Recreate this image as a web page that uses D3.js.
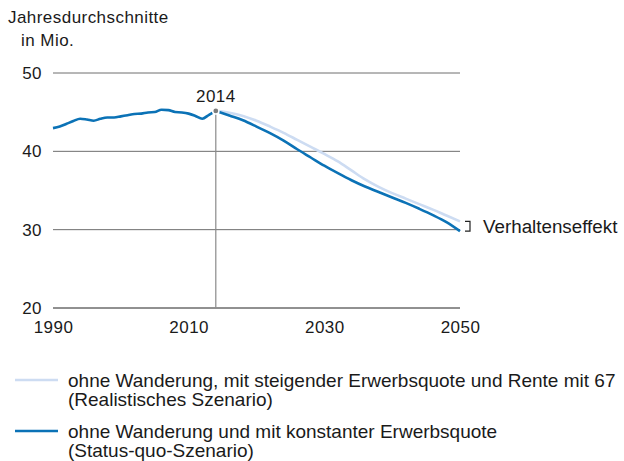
<!DOCTYPE html>
<html>
<head>
<meta charset="utf-8">
<script src="https://cdn.jsdelivr.net/npm/d3@7"></script>
<style>
  html, body { margin: 0; padding: 0; background: #fff; }
  svg text { font-family: "Liberation Sans", Arial, Helvetica, sans-serif; fill: #1a1a1a; }
</style>
</head>
<body>
<svg id="chart" width="624" height="461"></svg>
<script>
// Erwerbspersonen, Jahresdurchschnitte in Mio.
const historyYears = [1990,1991,1992,1993,1994,1995,1996,1997,1998,1999,2000,2001,2002,2003,2004,2005,2006,2007,2008,2009,2010,2011,2012,2013,2014];
const historyValues = [42.9,43.1,43.45,43.8,44.1,44.0,43.85,44.1,44.25,44.25,44.4,44.55,44.7,44.75,44.9,44.95,45.25,45.2,44.95,44.9,44.75,44.45,44.1,44.6,45.1];

const forecastYears = [2014,2016,2018,2020,2022,2024,2026,2028,2030,2032,2034,2036,2038,2040,2042,2044,2046,2048,2050];
// ohne Wanderung, mit steigender Erwerbsquote und Rente mit 67
const realisticValues = [45.1,44.85,44.45,43.85,43.1,42.3,41.4,40.5,39.6,38.65,37.5,36.35,35.4,34.6,33.9,33.2,32.5,31.75,31.0];
// ohne Wanderung und mit konstanter Erwerbsquote
const statusQuoValues = [45.1,44.5,43.9,43.1,42.25,41.3,40.2,39.15,38.1,37.15,36.25,35.45,34.75,34.05,33.35,32.6,31.8,30.9,29.75];

const yTicks = [20,30,40,50];
const xTicks = [1990,2010,2030,2050];
const markYear = 2014;

const legendLabels = [
  ["ohne Wanderung, mit steigender Erwerbsquote und Rente mit 67", "(Realistisches Szenario)"],
  ["ohne Wanderung und mit konstanter Erwerbsquote", "(Status-quo-Szenario)"]
];
const effectLabel = "Verhaltenseffekt";

const darkBlue = "#0b72b6";
const lightBlue = "#cddcf2";
const font = "'Liberation Sans', Arial, sans-serif";
const ls = "0.45px";

const svg = d3.select("#chart");
const x = d3.scaleLinear().domain([1990, 2050]).range([53, 460]);
const y = d3.scaleLinear().domain([20, 50]).range([307.5, 72.5]);

// Axis title
svg.append("text").attr("x", 8).attr("y", 23).attr("font-size", 17)
  .attr("letter-spacing", ls).text("Jahresdurchschnitte");
svg.append("text").attr("x", 21).attr("y", 46).attr("font-size", 17)
  .attr("letter-spacing", ls).text("in Mio.");

// Horizontal gridlines with labels
const yAxis = d3.axisLeft(y).tickValues(yTicks).tickSize(-(x.range()[1] - x.range()[0])).tickPadding(11);
const gy = svg.append("g").attr("transform", `translate(${x.range()[0]},0)`).call(yAxis);
gy.select(".domain").remove();
gy.selectAll(".tick line").attr("stroke", d => d === 20 ? "#222" : "#6e6e6e").attr("stroke-width", 1);
gy.selectAll(".tick text").attr("font-size", 17).attr("fill", "#1a1a1a")
  .attr("font-family", font).attr("letter-spacing", ls).attr("dy", "0.36em");

// Year labels
const xAxis = d3.axisBottom(x).tickValues(xTicks).tickFormat(d3.format("d")).tickSize(0).tickPadding(13);
const gx = svg.append("g").attr("transform", `translate(0,${y(20)})`).call(xAxis);
gx.select(".domain").remove();
gx.selectAll(".tick text").attr("font-size", 17).attr("fill", "#1a1a1a")
  .attr("font-family", font).attr("letter-spacing", ls);

// Marker line for the base year
svg.append("line")
  .attr("x1", x(markYear)).attr("x2", x(markYear))
  .attr("y1", y(historyValues[historyValues.length - 1])).attr("y2", y(20))
  .attr("stroke", "#8a8a8a").attr("stroke-width", 1.2);

const line = d3.line().x(d => x(d[0])).y(d => y(d[1])).curve(d3.curveMonotoneX);

svg.append("path")
  .datum(forecastYears.map((yr, i) => [yr, realisticValues[i]]))
  .attr("d", line).attr("fill", "none").attr("stroke", lightBlue).attr("stroke-width", 2.6);

svg.append("path")
  .datum(forecastYears.map((yr, i) => [yr, statusQuoValues[i]]))
  .attr("d", line).attr("fill", "none").attr("stroke", darkBlue).attr("stroke-width", 2.6);

svg.append("path")
  .datum(historyYears.map((yr, i) => [yr, historyValues[i]]))
  .attr("d", line).attr("fill", "none").attr("stroke", darkBlue).attr("stroke-width", 2.6);

// Base-year point with a white halo that separates the two line segments
const baseVal = historyValues[historyValues.length - 1];
svg.append("circle").attr("cx", x(markYear)).attr("cy", y(baseVal)).attr("r", 2.4)
  .attr("fill", "#7d7d7d").attr("stroke", "#fff").attr("stroke-width", 3).attr("paint-order", "stroke");
svg.append("text").attr("x", x(markYear)).attr("y", y(baseVal) - 8.5)
  .attr("text-anchor", "middle").attr("font-size", 17).attr("letter-spacing", ls).text(markYear);

// Bracket marking the gap between the two scenarios in 2050
const lastLight = realisticValues[realisticValues.length - 1];
const lastDark = statusQuoValues[statusQuoValues.length - 1];
const bx = x(2050) + 5;
svg.append("path")
  .attr("d", `M${bx},${y(lastLight)}H${bx + 5}V${y(lastDark)}H${bx}`)
  .attr("fill", "none").attr("stroke", "#222").attr("stroke-width", 1.2);
svg.append("text").attr("x", 483).attr("y", y((lastLight + lastDark) / 2) + 7)
  .attr("font-size", 18.8).text(effectLabel);

// Legend
const legend = svg.append("g");
const legendColors = [lightBlue, darkBlue];
const legendTop = [380, 431];
legendLabels.forEach((lines, i) => {
  legend.append("line").attr("x1", 15).attr("x2", 58)
    .attr("y1", legendTop[i]).attr("y2", legendTop[i])
    .attr("stroke", legendColors[i]).attr("stroke-width", 2.6);
  lines.forEach((t, j) => {
    legend.append("text").attr("x", 68).attr("y", legendTop[i] + 7 + j * 19)
      .attr("font-size", 19).text(t);
  });
});
</script>
</body>
</html>
